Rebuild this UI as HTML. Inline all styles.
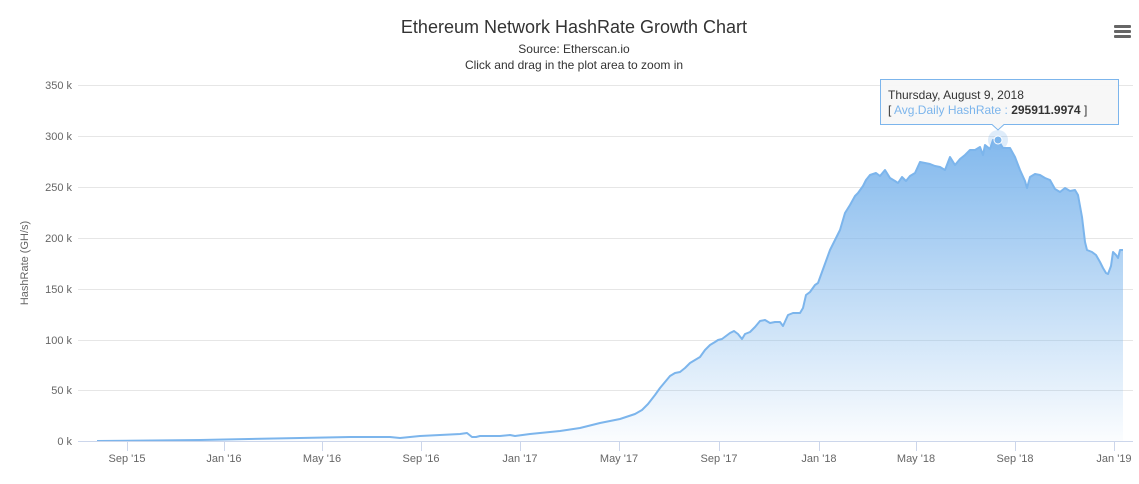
<!DOCTYPE html>
<html><head><meta charset="utf-8"><style>
body{margin:0;background:#fff;}
svg{display:block;font-family:"Liberation Sans","DejaVu Sans",sans-serif;}
</style></head><body>
<svg width="1139" height="484" viewBox="0 0 1139 484">
<defs>
<linearGradient id="g" x1="0" y1="0" x2="0" y2="1">
<stop offset="0" stop-color="#7cb5ec" stop-opacity="0.95"/>
<stop offset="1" stop-color="#7cb5ec" stop-opacity="0.03"/>
</linearGradient>
</defs>
<text x="574" y="33" text-anchor="middle" font-size="18" fill="#333">Ethereum Network HashRate Growth Chart</text>
<text x="574" y="53" text-anchor="middle" font-size="12" fill="#333">Source: Etherscan.io</text>
<text x="574" y="69" text-anchor="middle" font-size="12" fill="#333">Click and drag in the plot area to zoom in</text>
<g fill="#666"><rect x="1114" y="25" width="17" height="3" rx="1"/><rect x="1114" y="30" width="17" height="3" rx="1"/><rect x="1114" y="35" width="17" height="3" rx="1"/></g>
<g stroke="#e6e6e6" stroke-width="1">
<line x1="78" x2="1133" y1="85.5" y2="85.5"/><line x1="78" x2="1133" y1="136.5" y2="136.5"/>
<line x1="78" x2="1133" y1="187.5" y2="187.5"/><line x1="78" x2="1133" y1="238.5" y2="238.5"/>
<line x1="78" x2="1133" y1="289.5" y2="289.5"/><line x1="78" x2="1133" y1="340.5" y2="340.5"/>
<line x1="78" x2="1133" y1="390.5" y2="390.5"/>
</g>
<g font-size="11" fill="#666" text-anchor="end">
<text x="72" y="89">350 k</text><text x="72" y="140">300 k</text><text x="72" y="191">250 k</text>
<text x="72" y="242">200 k</text><text x="72" y="293">150 k</text><text x="72" y="344">100 k</text>
<text x="72" y="394">50 k</text><text x="72" y="445">0 k</text>
</g>
<text transform="translate(28,263) rotate(-90)" text-anchor="middle" font-size="11" fill="#666">HashRate (GH/s)</text>
<polygon fill="url(#g)" points="97,441 200,440 300,438 350,437 390,437 400,438 420,436 440,435 460,434 467,433 472,437 476,437 480,436 500,436 510,435 515,436 530,434 560,431 580,428 600,423 620,419 635,414 642,410 648,404 655,395 660,388 665,382 670,376 675,373 680,372 685,368 690,363 695,360 700,357 705,350 710,345 715,342 718,340 722,339 726,336 730,333 734,331 738,334 742,339 745,334 750,332 755,327 760,321 765,320 770,323 775,322 780,322 783,326 788,315 793,313 800,313 803,308 806,295 810,292 815,285 818,283 822,272 826,261 830,250 835,240 840,230 845,213 850,205 855,196 858,193 863,186 866,180 870,175 876,173 880,176 885,170 890,178 895,181 898,183 902,177 906,181 910,176 915,173 920,162 925,163 930,164 935,166 940,167 945,170 950,157 955,165 960,159 965,155 970,150 975,150 980,147 983,155 985,145 990,149 993,140 998,140 1003,148 1010,148 1015,157 1020,170 1025,181 1027,188 1030,177 1035,174 1040,175 1045,178 1050,180 1055,189 1060,192 1065,188 1070,191 1075,190 1078,195 1082,217 1085,242 1087,250 1092,252 1096,255 1100,262 1103,268 1106,273 1108,274 1111,266 1113,252 1116,255 1118,258 1120,250 1123,250 1123,441"/>
<polyline fill="none" stroke="#7cb5ec" stroke-width="2" stroke-linejoin="round" points="97,441 200,440 300,438 350,437 390,437 400,438 420,436 440,435 460,434 467,433 472,437 476,437 480,436 500,436 510,435 515,436 530,434 560,431 580,428 600,423 620,419 635,414 642,410 648,404 655,395 660,388 665,382 670,376 675,373 680,372 685,368 690,363 695,360 700,357 705,350 710,345 715,342 718,340 722,339 726,336 730,333 734,331 738,334 742,339 745,334 750,332 755,327 760,321 765,320 770,323 775,322 780,322 783,326 788,315 793,313 800,313 803,308 806,295 810,292 815,285 818,283 822,272 826,261 830,250 835,240 840,230 845,213 850,205 855,196 858,193 863,186 866,180 870,175 876,173 880,176 885,170 890,178 895,181 898,183 902,177 906,181 910,176 915,173 920,162 925,163 930,164 935,166 940,167 945,170 950,157 955,165 960,159 965,155 970,150 975,150 980,147 983,155 985,145 990,149 993,140 998,140 1003,148 1010,148 1015,157 1020,170 1025,181 1027,188 1030,177 1035,174 1040,175 1045,178 1050,180 1055,189 1060,192 1065,188 1070,191 1075,190 1078,195 1082,217 1085,242 1087,250 1092,252 1096,255 1100,262 1103,268 1106,273 1108,274 1111,266 1113,252 1116,255 1118,258 1120,250 1123,250"/>
<line x1="78" x2="1133" y1="441.5" y2="441.5" stroke="#ccd6eb"/>
<g stroke="#ccd6eb">
<line x1="127.5" x2="127.5" y1="441" y2="451"/><line x1="224.5" x2="224.5" y1="441" y2="451"/>
<line x1="322.5" x2="322.5" y1="441" y2="451"/><line x1="421.5" x2="421.5" y1="441" y2="451"/>
<line x1="520.5" x2="520.5" y1="441" y2="451"/><line x1="619.5" x2="619.5" y1="441" y2="451"/>
<line x1="719.5" x2="719.5" y1="441" y2="451"/><line x1="819.5" x2="819.5" y1="441" y2="451"/>
<line x1="916.5" x2="916.5" y1="441" y2="451"/><line x1="1015.5" x2="1015.5" y1="441" y2="451"/>
<line x1="1114.5" x2="1114.5" y1="441" y2="451"/>
</g>
<g font-size="11" fill="#666" text-anchor="middle">
<text x="127" y="462">Sep '15</text><text x="224" y="462">Jan '16</text><text x="322" y="462">May '16</text>
<text x="421" y="462">Sep '16</text><text x="520" y="462">Jan '17</text><text x="619" y="462">May '17</text>
<text x="719" y="462">Sep '17</text><text x="819" y="462">Jan '18</text><text x="916" y="462">May '18</text>
<text x="1015" y="462">Sep '18</text><text x="1114" y="462">Jan '19</text>
</g>
<circle cx="998" cy="140" r="10" fill="#7cb5ec" fill-opacity="0.25"/>
<circle cx="998" cy="140" r="4" fill="#7cb5ec" stroke="#fff" stroke-width="1"/>
<path d="M880.5,79.5 H1118.5 V124.5 H1004 L998,130 L992,124.5 H880.5 Z" fill="#f7f7f7" fill-opacity="0.95" stroke="#7cb5ec"/>
<text x="888" y="99" font-size="12" fill="#333">Thursday, August 9, 2018</text>
<text x="888" y="114" font-size="12" fill="#333">[ <tspan fill="#7cb5ec">Avg.Daily HashRate : </tspan><tspan font-weight="bold">295911.9974</tspan> ]</text>
</svg>
</body></html>
